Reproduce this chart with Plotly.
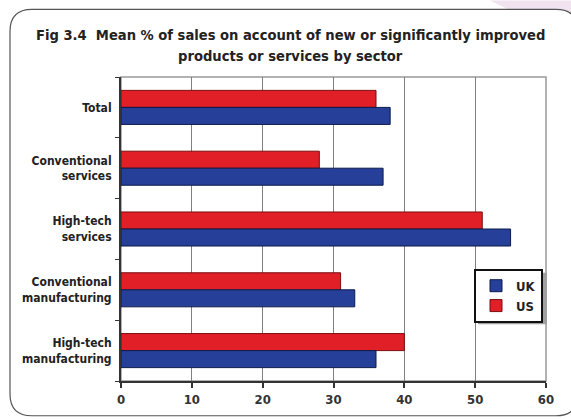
import plotly.graph_objects as go

# Sector categories (top to bottom) and mean % of sales from new/improved products
sectors = [
    "Total",
    "Conventional<br>services",
    "High-tech<br>services",
    "Conventional<br>manufacturing",
    "High-tech<br>manufacturing",
]
us_values = [36, 28, 51, 31, 40]
uk_values = [38, 37, 55, 33, 36]
x_ticks = [0, 10, 20, 30, 40, 50, 60]

W, H = 571, 419
L, R, T, B = 121, 25, 77, 36
PW, PH = W - L - R, H - T - B


def px(x):
    return (x - L) / PW


def py(y):
    return (H - B - y) / PH


FONT = "DejaVu Sans Condensed, Liberation Sans Narrow, Arial Narrow, sans-serif"

fig = go.Figure()
fig.add_trace(go.Bar(
    y=sectors, x=us_values, orientation="h", name="<b>US</b>",
    marker=dict(color="#e11f27", line=dict(color="#7a0d10", width=1)),
))
fig.add_trace(go.Bar(
    y=sectors, x=uk_values, orientation="h", name="<b>UK</b>",
    marker=dict(color="#26409a", line=dict(color="#0d1a4a", width=1)),
))


def rounded_rect(x0, y0, x1, y1, r):
    # path in paper coordinates built from pixel corners
    pts = [
        f"M {px(x0 + r)},{py(y0)}",
        f"L {px(x1 - r)},{py(y0)}",
        f"Q {px(x1)},{py(y0)} {px(x1)},{py(y0 + r)}",
        f"L {px(x1)},{py(y1 - r)}",
        f"Q {px(x1)},{py(y1)} {px(x1 - r)},{py(y1)}",
        f"L {px(x0 + r)},{py(y1)}",
        f"Q {px(x0)},{py(y1)} {px(x0)},{py(y1 - r)}",
        f"L {px(x0)},{py(y0 + r)}",
        f"Q {px(x0)},{py(y0)} {px(x0 + r)},{py(y0)}",
        "Z",
    ]
    return " ".join(pts)


shapes = [
    # pink corner behind the frame
    dict(type="path", xref="paper", yref="paper", layer="below",
         path=f"M {px(490)},{py(0)} L {px(571)},{py(0)} L {px(571)},{py(40)} Z",
         fillcolor="#f1e2f0", line=dict(width=0)),
    # rounded frame
    dict(type="path", xref="paper", yref="paper", layer="below",
         path=rounded_rect(10, 9, 578, 418, 22),
         fillcolor="white", line=dict(color="#555555", width=1.2)),
    # plot area border (top/right in grey)
    dict(type="rect", xref="paper", yref="paper", layer="below",
         x0=0, y0=0, x1=1, y1=1, line=dict(color="#999999", width=1.5)),
    # legend drop shadow
    dict(type="rect", xref="paper", yref="paper", layer="above",
         x0=px(478), y0=py(326), x1=px(547), y1=py(274),
         fillcolor="#a0a0a0", line=dict(width=0)),
]

title_lines = [
    "Fig 3.4  Mean % of sales on account of new or significantly improved",
    "products or services by sector",
]
annotations = [
    dict(text=f"<b>{line}</b>", xref="paper", yref="paper",
         x=px(290), y=py(yc), xanchor="center", yanchor="middle",
         showarrow=False, font=dict(family=FONT, size=14.6, color="#222222"))
    for line, yc in zip(title_lines, [34, 55])
]

fig.update_layout(
    width=W, height=H,
    margin=dict(l=L, r=R, t=T, b=B),
    paper_bgcolor="rgba(0,0,0,0)",
    plot_bgcolor="white",
    barmode="group",
    bargap=0.44,
    bargroupgap=0,
    font=dict(family=FONT, color="#222222"),
    xaxis=dict(
        range=[0, 60], tickvals=x_ticks, ticktext=[f"<b>{v}</b>" for v in x_ticks],
        showgrid=True, gridcolor="#808080", gridwidth=1,
        showline=True, linecolor="#333333", linewidth=2,
        ticks="outside", ticklen=5, tickcolor="#333333", tickwidth=1.5,
        tickfont=dict(family=FONT, size=13, color="#333333"),
        zeroline=False, fixedrange=True,
    ),
    yaxis=dict(
        autorange="reversed",
        tickvals=sectors, ticktext=[f"<b>{s}</b>" for s in sectors],
        showline=True, linecolor="#333333", linewidth=2,
        ticks="outside", tickson="boundaries", ticklen=4, tickcolor="#333333",
        tickfont=dict(family=FONT, size=12, color="#222222"),
        ticklabelstandoff=5,
    ),
    legend=dict(
        x=px(474), y=py(270), xanchor="left", yanchor="top",
        bgcolor="white", bordercolor="#111111", borderwidth=2,
        traceorder="reversed",
        font=dict(family=FONT, size=13, color="#222222"),
        itemwidth=30, tracegroupgap=0,
    ),
    annotations=annotations,
    shapes=shapes,
    showlegend=True,
)
fig.update_traces(cliponaxis=False)

fig.write_html("out.html")
